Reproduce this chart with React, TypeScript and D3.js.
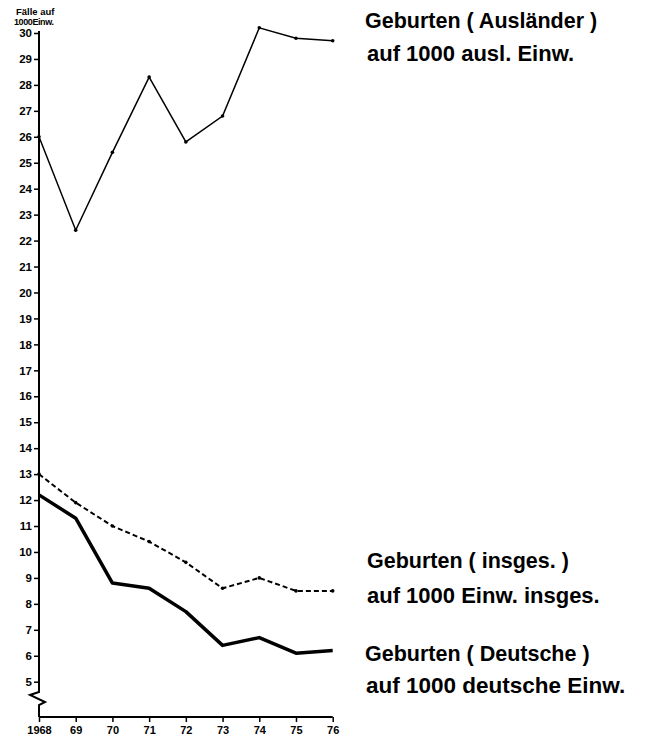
import React, { useEffect, useRef } from 'react'
import * as d3 from 'd3'

// years on the x axis
const years = [1968, 1969, 1970, 1971, 1972, 1973, 1974, 1975, 1976]
const yearLabels = ['1968', '69', '70', '71', '72', '73', '74', '75', '76']

// births per 1000 inhabitants
const auslaender = [26.0, 22.4, 25.4, 28.3, 25.8, 26.8, 30.2, 29.8, 29.7]
const insgesamt = [13.0, 11.9, 11.0, 10.4, 9.6, 8.6, 9.0, 8.5, 8.5]
const deutsche = [12.2, 11.3, 8.8, 8.6, 7.7, 6.4, 6.7, 6.1, 6.2]

const yTicks = d3.range(5, 31)

const labelFont = '"Liberation Sans", Arial, sans-serif'

export default function App() {
  const ref = useRef<SVGSVGElement>(null)

  useEffect(() => {
    const svg = d3.select(ref.current)
    svg.selectAll('*').remove()

    const x = d3.scaleLinear().domain([1968, 1976]).range([39, 332.7])
    const y = d3.scaleLinear().domain([5, 30]).range([681.7, 33])
    const axisX = x(1968)
    const baseY = 717

    /* y axis */
    const yAxis = d3
      .axisLeft(y)
      .tickValues(yTicks)
      .tickSize(5)
      .tickPadding(2)
      .tickFormat((d: any) => `${d}`)

    const gy = svg
      .append('g')
      .attr('transform', `translate(${axisX}, 0)`)
      .call(yAxis)
    gy.select('.domain').remove()
    gy.selectAll('line').attr('stroke', '#000').attr('stroke-width', 1.5)
    gy.selectAll('text')
      .attr('fill', '#000')
      .style('font-family', labelFont)
      .style('font-weight', 'bold')
      .style('font-size', '11.5px')

    // axis line with a break
    const axisPath = d3.path()
    axisPath.moveTo(axisX, 31)
    axisPath.lineTo(axisX, 692)
    axisPath.lineTo(axisX - 9, 695)
    axisPath.lineTo(axisX + 6, 702)
    axisPath.lineTo(axisX, 705)
    axisPath.lineTo(axisX, baseY)
    svg
      .append('path')
      .attr('d', axisPath.toString())
      .attr('fill', 'none')
      .attr('stroke', '#000')
      .attr('stroke-width', 2)
      .attr('stroke-linejoin', 'miter')

    /* x axis */
    const xAxis = d3
      .axisBottom(x)
      .tickValues(years)
      .tickSize(5)
      .tickPadding(4)
      .tickFormat((d: any, i: number) => yearLabels[i])

    const gx = svg
      .append('g')
      .attr('transform', `translate(0, ${baseY})`)
      .call(xAxis)
    gx.select('.domain')
      .attr('stroke', '#000')
      .attr('stroke-width', 2)
      .attr('d', `M${axisX},0H${x(1976)}`)
    gx.selectAll('line').attr('stroke', '#000').attr('stroke-width', 1.5)
    gx.selectAll('text')
      .attr('fill', '#000')
      .style('font-family', labelFont)
      .style('font-weight', 'bold')
      .style('font-size', '11px')

    // unit label
    svg
      .append('text')
      .attr('x', 16)
      .attr('y', 15)
      .style('font-family', labelFont)
      .style('font-weight', 'bold')
      .style('font-size', '9.5px')
      .text('Fälle auf')
    svg
      .append('text')
      .attr('x', 14)
      .attr('y', 25)
      .style('font-family', labelFont)
      .style('font-weight', 'bold')
      .style('font-size', '9px')
      .attr('letter-spacing', '-0.4')
      .text('1000Einw.')

    /* lines */
    const line = d3
      .line<number>()
      .x((d, i) => x(years[i]))
      .y((d) => y(d))

    svg
      .append('path')
      .attr('d', line(auslaender))
      .attr('fill', 'none')
      .attr('stroke', '#000')
      .attr('stroke-width', 1.5)

    svg
      .append('path')
      .attr('d', line(insgesamt))
      .attr('fill', 'none')
      .attr('stroke', '#000')
      .attr('stroke-width', 2)
      .attr('stroke-dasharray', '5,3')

    svg
      .append('path')
      .attr('d', line(deutsche))
      .attr('fill', 'none')
      .attr('stroke', '#000')
      .attr('stroke-width', 3.5)
      .attr('stroke-linejoin', 'round')

    // point markers
    const series = [
      { values: auslaender, r: 1.8 },
      { values: insgesamt, r: 1.8 },
    ]
    series.forEach((s) => {
      svg
        .append('g')
        .selectAll('circle')
        .data(s.values)
        .enter()
        .append('circle')
        .attr('cx', (d, i) => x(years[i]))
        .attr('cy', (d) => y(d))
        .attr('r', s.r)
        .attr('fill', '#000')
    })

    /* annotations */
    const notes = [
      { x: 365, y: 28, size: 21.5, text: 'Geburten ( Ausländer )' },
      { x: 367, y: 61, size: 22, text: 'auf 1000 ausl. Einw.' },
      { x: 367, y: 568, size: 21.5, text: 'Geburten ( insges. )' },
      { x: 367, y: 603, size: 22, text: 'auf 1000 Einw. insges.' },
      { x: 365, y: 661, size: 21.5, text: 'Geburten ( Deutsche )' },
      { x: 366, y: 693, size: 22.5, text: 'auf 1000 deutsche Einw.' },
    ]
    svg
      .append('g')
      .selectAll('text')
      .data(notes)
      .enter()
      .append('text')
      .attr('x', (d) => d.x)
      .attr('y', (d) => d.y)
      .style('font-family', labelFont)
      .style('font-weight', 'bold')
      .style('font-size', (d) => `${d.size}px`)
      .attr('fill', '#000')
      .text((d) => d.text)
  }, [])

  return (
    <svg
      ref={ref}
      width={647}
      height={741}
      style={{ position: 'absolute', left: 0, top: 0, background: '#fff' }}
    />
  )
}
